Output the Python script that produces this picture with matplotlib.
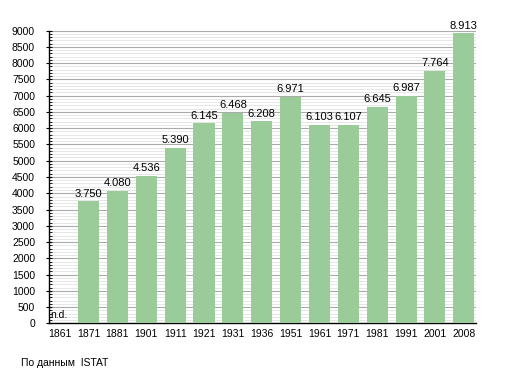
import matplotlib
matplotlib.use('Agg')
import matplotlib.pyplot as plt
from matplotlib.ticker import MultipleLocator

plt.rcParams['font.family'] = ['Liberation Sans', 'DejaVu Sans']

years = ['1861', '1871', '1881', '1901', '1911', '1921', '1931', '1936',
         '1951', '1961', '1971', '1981', '1991', '2001', '2008']
pop = [0, 3750, 4080, 4536, 5390, 6145, 6468, 6208,
       6971, 6103, 6107, 6645, 6987, 7764, 8913]
labels = ['n.d.', '3.750', '4.080', '4.536', '5.390', '6.145', '6.468', '6.208',
          '6.971', '6.103', '6.107', '6.645', '6.987', '7.764', '8.913']

fig = plt.figure(figsize=(5.05, 3.73), dpi=100)
ax = fig.add_axes([0.097, 0.133, 0.846, 0.785])

x = list(range(len(years)))
ax.bar(x, pop, width=0.73, color='#99cc99', zorder=3)

for i, (v, lab) in enumerate(zip(pop, labels)):
    if v == 0:
        ax.text(i - 0.34, 100, lab, ha='left', va='bottom', fontsize=7.5, zorder=4)
    else:
        ax.annotate(lab, (i, v), xytext=(0, 2), textcoords='offset points',
                    ha='center', va='bottom', fontsize=8, zorder=4)

ax.set_xlim(-0.37, len(years) - 0.57)
ax.set_ylim(0, 9000)
ax.set_xticks(x)
ax.set_xticklabels(years, fontsize=7.5)
ax.yaxis.set_major_locator(MultipleLocator(500))
ax.yaxis.set_minor_locator(MultipleLocator(100))
ax.tick_params(axis='y', labelsize=7.5, length=4, direction='inout', pad=8)
ax.tick_params(axis='y', which='minor', length=2, direction='in')
ax.tick_params(axis='x', length=0, pad=4)
ax.grid(axis='y', which='major', color='#aaaaaa', linewidth=0.8, zorder=0)
ax.grid(axis='y', which='minor', color='#e2e2e2', linewidth=0.6, zorder=0)

for s in ['top', 'right']:
    ax.spines[s].set_visible(False)
ax.spines['left'].set_linewidth(1)
ax.spines['bottom'].set_linewidth(1)

fig.text(0.042, 0.018, 'По данным  ISTAT', fontsize=7.5)

fig.savefig('out.png', dpi=100)
